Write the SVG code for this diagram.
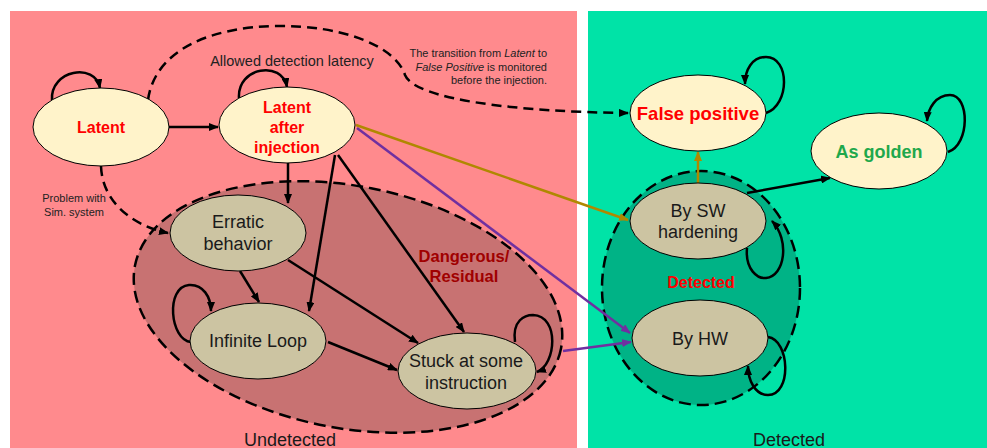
<svg xmlns="http://www.w3.org/2000/svg" width="987" height="448" viewBox="0 0 987 448">
<defs>
<marker id="ab" markerWidth="10" markerHeight="8" refX="9" refY="4" orient="auto" markerUnits="userSpaceOnUse"><path d="M0,0 L10,4 L0,8 z" fill="#000"/></marker>
<marker id="ag" markerWidth="10" markerHeight="8" refX="9" refY="4" orient="auto" markerUnits="userSpaceOnUse"><path d="M0,0 L10,4 L0,8 z" fill="#B08800"/></marker>
<marker id="ap" markerWidth="10" markerHeight="8" refX="9" refY="4" orient="auto" markerUnits="userSpaceOnUse"><path d="M0,0 L10,4 L0,8 z" fill="#7030A0"/></marker>
</defs>
<style>
text{font-family:"Liberation Sans",Arial,sans-serif;text-anchor:middle}
.cream{fill:#FFF3CA;stroke:#000;stroke-width:1}
.tan{fill:#CCC4A2;stroke:#000;stroke-width:1}
.red{fill:#FF0000;font-weight:bold;font-size:16px}
.blk{fill:#1a1a1a;font-size:18px}
.e{fill:none;stroke:#000;stroke-width:2.5;marker-end:url(#ab)}
.d{fill:none;stroke:#000;stroke-width:2.5;stroke-dasharray:10 6;marker-end:url(#ab)}
.grp{stroke:#000;stroke-width:2.5;stroke-dasharray:12 6}
.note{fill:#222;font-size:11px}
</style>
<rect x="0" y="0" width="987" height="448" fill="#fff"/>
<rect x="10" y="11" width="567" height="437" fill="#FF8A8D"/>
<rect x="588" y="11" width="399" height="437" fill="#00E3A7"/>
<g id="dangerous-group">
<ellipse cx="348" cy="307" rx="217" ry="121" transform="rotate(11 348 307)" fill="#C87272" class="grp"/>
<text x="464" y="262" style="fill:#A00000;font-weight:bold;font-size:16.5px">Dangerous/</text>
<text x="464" y="282" style="fill:#A00000;font-weight:bold;font-size:16.5px">Residual</text>
</g>
<g id="detected-group">
<ellipse cx="701" cy="288" rx="99" ry="117" fill="#00B386" class="grp"/>
<text x="701" y="288" class="red">Detected</text>
</g>
<text x="290" y="446" style="fill:#1a1a1a;font-size:18px">Undetected</text>
<text x="789" y="446" style="fill:#1a1a1a;font-size:18px">Detected</text>
<g id="connectors">
<path class="e" d="M169,127 L218,127"/>
<path class="e" d="M288,163 L288,203"/>
<path class="e" d="M335,155 L309,311"/>
<path class="e" d="M338,155 L464,332"/>
<path d="M356,125 L628,220" fill="none" stroke="#B08800" stroke-width="2.5" marker-end="url(#ag)"/>
<path d="M357,128 L630,333" fill="none" stroke="#7030A0" stroke-width="2.5" marker-end="url(#ap)"/>
<path d="M563,351 L631,342" fill="none" stroke="#7030A0" stroke-width="2.5" marker-end="url(#ap)"/>
<path class="e" d="M240,271 L259,302"/>
<path class="e" d="M288,260 L418,343"/>
<path class="e" d="M328,342 L397,370"/>
<path d="M698,183 L698,152" fill="none" stroke="#B08800" stroke-width="2.5" marker-end="url(#ag)"/>
<path class="e" d="M747,193 L830,178"/>
<path class="d" d="M148,100 C155,50 210,27 277,26 C340,25 395,45 405,75 C415,100 520,112 628,113"/>
<path class="d" d="M101,166 C102,200 130,225 168,233"/>
<path class="e" d="M52,100 C50,70 95,62 100,88"/>
<path class="e" d="M239,98 C237,67 282,60 287,87"/>
<path class="e" d="M766,113 C790,105 790,57 766,57 C752,57 745,70 745,84"/>
<path class="e" d="M948,152 C970,145 970,95 950,95 C936,95 928,108 927,121"/>
<path class="e" d="M747,248 C745,270 758,279 766,278 C785,276 790,240 772,221"/>
<path class="e" d="M768,337 C790,340 792,395 768,395 C755,395 748,380 748,366"/>
<path class="e" d="M191,342 C170,340 165,287 189,285 C203,284 211,297 211,311"/>
<path class="e" d="M515,342 C512,320 525,315 533,315 C560,316 556,365 537,372"/>
<text x="292" y="66" style="fill:#222;font-size:14.5px">Allowed detection latency</text>
<text x="547" y="57" class="note" style="text-anchor:end">The transition from <tspan font-style="italic">Latent</tspan> to</text>
<text x="547" y="70.5" class="note" style="text-anchor:end"><tspan font-style="italic">False Positive</tspan> is monitored</text>
<text x="547" y="84" class="note" style="text-anchor:end">before the injection.</text>
<text x="74" y="202" style="fill:#222;font-size:11px">Problem with</text>
<text x="74" y="216" style="fill:#222;font-size:11px">Sim. system</text>
</g>
<g id="latent"><ellipse class="cream" cx="101" cy="127" rx="68" ry="39"/><text x="101" y="133" class="red">Latent</text></g>
<g id="latent-after-injection"><ellipse class="cream" cx="287" cy="125" rx="68" ry="38"/><text x="287" y="113" class="red">Latent</text><text x="287" y="133" class="red">after</text><text x="287" y="153" class="red">injection</text></g>
<g id="false-positive"><ellipse class="cream" cx="698" cy="113" rx="68" ry="38"/><text x="698" y="120" class="red" style="font-size:18.5px">False positive</text></g>
<g id="as-golden"><ellipse class="cream" cx="879" cy="151" rx="68" ry="38"/><text x="879" y="158" style="fill:#1FA84C;font-weight:bold;font-size:18px">As golden</text></g>
<g id="by-sw"><ellipse class="tan" cx="698" cy="221" rx="68" ry="38"/><text x="698" y="217" class="blk">By SW</text><text x="698" y="238" class="blk">hardening</text></g>
<g id="by-hw"><ellipse class="tan" cx="700" cy="338" rx="68" ry="38"/><text x="700" y="345" class="blk">By HW</text></g>
<g id="erratic"><ellipse class="tan" cx="238" cy="233" rx="68" ry="38"/><text x="238" y="228" class="blk">Erratic</text><text x="238" y="250" class="blk">behavior</text></g>
<g id="infinite-loop"><ellipse class="tan" cx="258" cy="341" rx="68" ry="38"/><text x="258" y="347" class="blk">Infinite Loop</text></g>
<g id="stuck"><ellipse class="tan" cx="467" cy="371" rx="69" ry="38"/><text x="466" y="367" class="blk">Stuck at some</text><text x="466" y="389" class="blk">instruction</text></g>
</svg>
